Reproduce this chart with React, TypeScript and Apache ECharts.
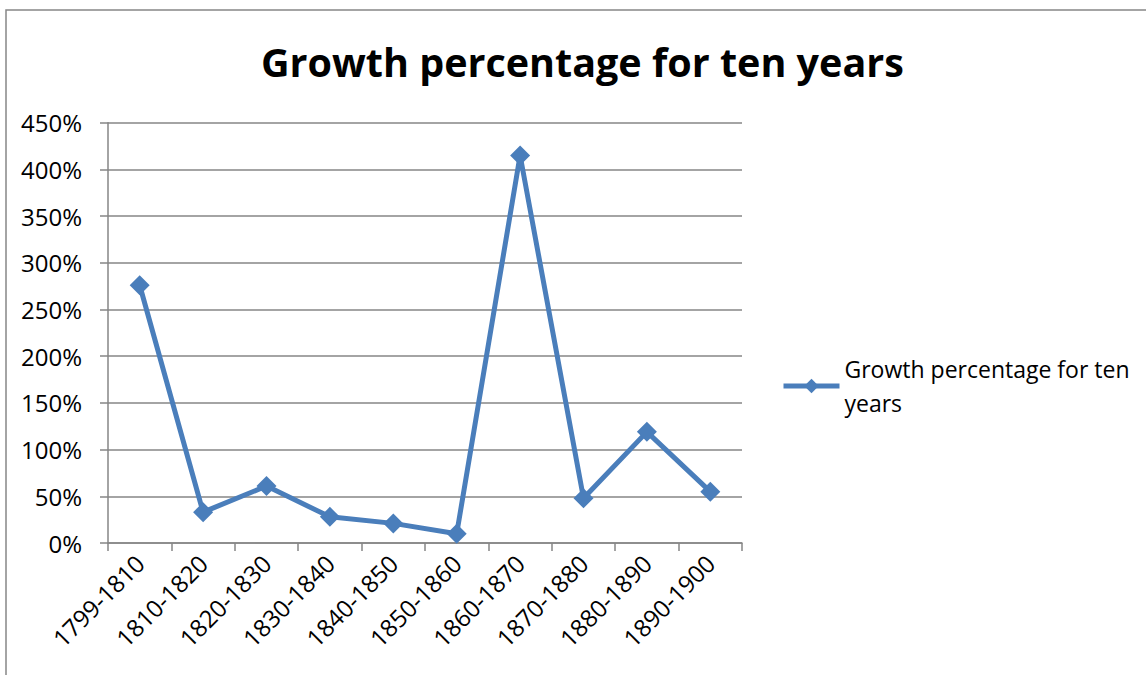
import React, { useEffect, useRef } from "react";
import * as echarts from "echarts";

const titleText = "Growth percentage for ten years";
const seriesName = "Growth percentage for ten years";
const categories = [
  "1799-1810",
  "1810-1820",
  "1820-1830",
  "1830-1840",
  "1840-1850",
  "1850-1860",
  "1860-1870",
  "1870-1880",
  "1880-1890",
  "1890-1900",
];
const growthValues = [276, 33, 61, 28, 21, 10, 415, 48, 119, 55];

export default function App() {
  const ref = useRef<HTMLDivElement>(null);
  useEffect(() => {
    if (!ref.current) return;
    const chart = echarts.init(ref.current, undefined, { renderer: "svg" });
    const font = "'Open Sans', 'Noto Sans', sans-serif";
    const gray = "#868686";
    const blue = "#4a7ebb";
    chart.setOption({
      animation: false,
      backgroundColor: "#ffffff",
      title: {
        text: titleText,
        left: 261,
        top: 42,
        padding: 0,
        textStyle: { fontFamily: font, fontSize: 39.5, fontWeight: "bold", color: "#000" },
      },
      graphic: [
        {
          type: "rect",
          shape: { x: 6, y: 10, width: 1300, height: 800 },
          style: { fill: "none", stroke: gray, lineWidth: 1.5 },
          silent: true,
        },
      ],
      legend: {
        left: 781,
        top: 335,
        padding: 0,
        itemWidth: 56,
        itemHeight: 18,
        itemGap: 4,
        data: [seriesName],
        formatter: () => "Growth percentage for ten\nyears",
        lineStyle: { width: 5, color: blue },
        itemStyle: { color: blue },
        textStyle: {
          fontFamily: font,
          fontSize: 23,
          color: "#000",
          lineHeight: 34,
          padding: [34, 0, 0, 0],
        },
      },
      grid: { left: 108, top: 122.7, right: 404, bottom: 132, containLabel: false },
      xAxis: {
        type: "category",
        data: categories,
        boundaryGap: true,
        axisLine: { lineStyle: { color: gray, width: 1.5 } },
        axisTick: { show: true, length: 8, alignWithLabel: false, lineStyle: { color: gray, width: 1.5 } },
        axisLabel: {
          rotate: 45,
          interval: 0,
          margin: 16,
          fontFamily: font,
          fontSize: 24,
          color: "#000",
        },
      },
      yAxis: {
        type: "value",
        min: 0,
        max: 450,
        interval: 50,
        axisLine: { show: true, lineStyle: { color: gray, width: 1.5 } },
        axisTick: { show: true, length: 8, lineStyle: { color: gray, width: 1.5 } },
        splitLine: { show: true, lineStyle: { color: gray, width: 1.5 } },
        axisLabel: {
          margin: 26,
          fontFamily: font,
          fontSize: 24,
          color: "#000",
          formatter: "{value}%",
        },
      },
      series: [
        {
          name: seriesName,
          type: "line",
          data: growthValues,
          symbol: "diamond",
          symbolSize: 20,
          lineStyle: { color: blue, width: 5 },
          itemStyle: { color: blue },
        },
      ],
    });
    return () => chart.dispose();
  }, []);
  return (
    <div
      ref={ref}
      style={{ position: "fixed", left: 0, top: 0, width: 1146, height: 675 }}
    />
  );
}
